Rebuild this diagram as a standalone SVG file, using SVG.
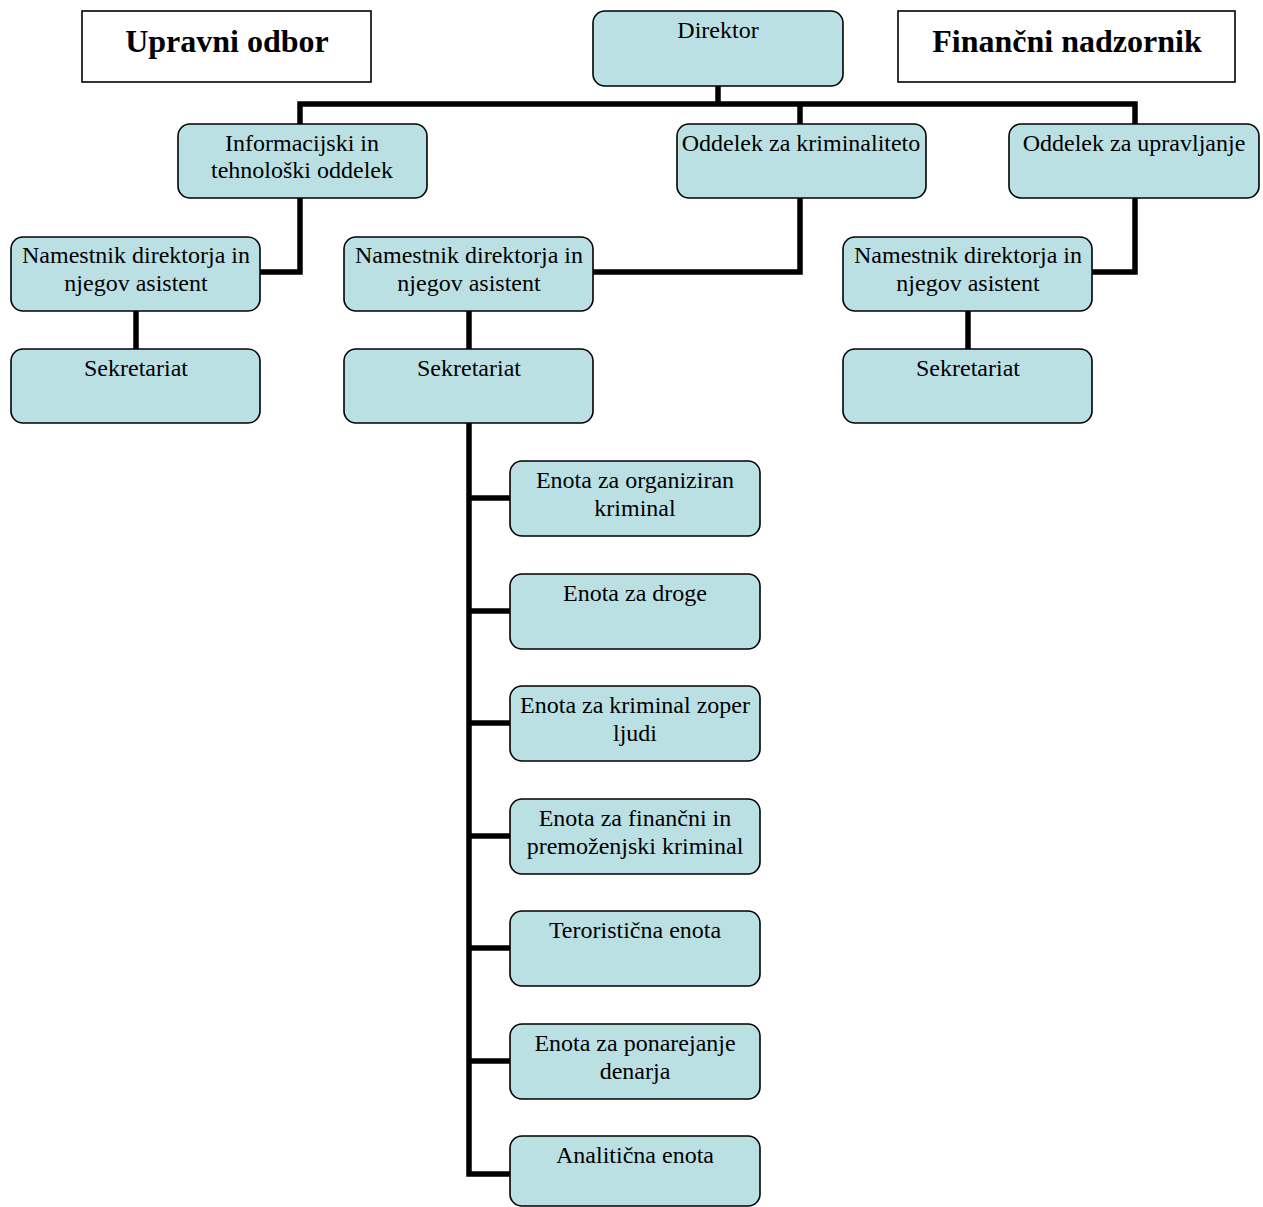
<svg xmlns="http://www.w3.org/2000/svg" width="1263" height="1207" viewBox="0 0 1263 1207">
  <style>
    .box { fill: #bbe0e3; stroke: #000; stroke-width: 1.6; }
    .plain { fill: #fff; stroke: #000; stroke-width: 1.6; }
    .t { font-family: "Liberation Serif", "Times New Roman", serif; font-size: 24px; fill: #000; text-anchor: middle; }
    .h { font-family: "Liberation Serif", "Times New Roman", serif; font-size: 32px; font-weight: bold; fill: #000; text-anchor: middle; }
    .link { fill: none; stroke: #000; stroke-width: 5.5; stroke-linejoin: miter; }
  </style>

  <!-- connectors -->
  <g id="connectors">
    <path class="link" d="M718,86 V104"/>
    <path class="link" d="M300,124 V104 H1135 V124"/>
    <path class="link" d="M800,104 V124"/>
    <path class="link" d="M300,198 V272 H260"/>
    <path class="link" d="M800,198 V272 H593"/>
    <path class="link" d="M1135,198 V272 H1092"/>
    <path class="link" d="M136,311 V349"/>
    <path class="link" d="M469,311 V349"/>
    <path class="link" d="M968,311 V349"/>
    <path class="link" d="M469,423 V1174 H510"/>
    <path class="link" d="M469,498 H510"/>
    <path class="link" d="M469,611 H510"/>
    <path class="link" d="M469,723 H510"/>
    <path class="link" d="M469,836 H510"/>
    <path class="link" d="M469,948 H510"/>
    <path class="link" d="M469,1061 H510"/>
  </g>

  <!-- top-level boxes -->
  <g id="upravni-odbor">
    <rect class="plain" x="82" y="11" width="289" height="71"/>
    <text class="h" x="227" y="52">Upravni odbor</text>
  </g>
  <g id="direktor">
    <rect class="box" x="593" y="11" width="250" height="75" rx="12"/>
    <text class="t" x="718" y="38">Direktor</text>
  </g>
  <g id="financni-nadzornik">
    <rect class="plain" x="898" y="11" width="337" height="71"/>
    <text class="h" x="1067" y="52">Finančni nadzornik</text>
  </g>

  <!-- departments -->
  <g id="it-oddelek">
    <rect class="box" x="178" y="124" width="249" height="74" rx="12"/>
    <text class="t" x="302" y="151">Informacijski in</text>
    <text class="t" x="302" y="178">tehnološki oddelek</text>
  </g>
  <g id="oddelek-kriminaliteta">
    <rect class="box" x="677" y="124" width="249" height="74" rx="12"/>
    <text class="t" x="801" y="151">Oddelek za kriminaliteto</text>
  </g>
  <g id="oddelek-upravljanje">
    <rect class="box" x="1009" y="124" width="250" height="74" rx="12"/>
    <text class="t" x="1134" y="151">Oddelek za upravljanje</text>
  </g>

  <!-- deputies -->
  <g id="namestnik-1">
    <rect class="box" x="11" y="237" width="249" height="74" rx="12"/>
    <text class="t" x="136" y="263">Namestnik direktorja in</text>
    <text class="t" x="136" y="291">njegov asistent</text>
  </g>
  <g id="namestnik-2">
    <rect class="box" x="344" y="237" width="249" height="74" rx="12"/>
    <text class="t" x="469" y="263">Namestnik direktorja in</text>
    <text class="t" x="469" y="291">njegov asistent</text>
  </g>
  <g id="namestnik-3">
    <rect class="box" x="843" y="237" width="249" height="74" rx="12"/>
    <text class="t" x="968" y="263">Namestnik direktorja in</text>
    <text class="t" x="968" y="291">njegov asistent</text>
  </g>

  <!-- secretariats -->
  <g id="sekretariat-1">
    <rect class="box" x="11" y="349" width="249" height="74" rx="12"/>
    <text class="t" x="136" y="376">Sekretariat</text>
  </g>
  <g id="sekretariat-2">
    <rect class="box" x="344" y="349" width="249" height="74" rx="12"/>
    <text class="t" x="469" y="376">Sekretariat</text>
  </g>
  <g id="sekretariat-3">
    <rect class="box" x="843" y="349" width="249" height="74" rx="12"/>
    <text class="t" x="968" y="376">Sekretariat</text>
  </g>

  <!-- units -->
  <g id="enota-organiziran">
    <rect class="box" x="510" y="461" width="250" height="75" rx="12"/>
    <text class="t" x="635" y="488">Enota za organiziran</text>
    <text class="t" x="635" y="516">kriminal</text>
  </g>
  <g id="enota-droge">
    <rect class="box" x="510" y="574" width="250" height="75" rx="12"/>
    <text class="t" x="635" y="601">Enota za droge</text>
  </g>
  <g id="enota-ljudi">
    <rect class="box" x="510" y="686" width="250" height="75" rx="12"/>
    <text class="t" x="635" y="713">Enota za kriminal zoper</text>
    <text class="t" x="635" y="741">ljudi</text>
  </g>
  <g id="enota-financni">
    <rect class="box" x="510" y="799" width="250" height="75" rx="12"/>
    <text class="t" x="635" y="826">Enota za finančni in</text>
    <text class="t" x="635" y="854">premoženjski kriminal</text>
  </g>
  <g id="enota-teroristicna">
    <rect class="box" x="510" y="911" width="250" height="75" rx="12"/>
    <text class="t" x="635" y="938">Teroristična enota</text>
  </g>
  <g id="enota-ponarejanje">
    <rect class="box" x="510" y="1024" width="250" height="75" rx="12"/>
    <text class="t" x="635" y="1051">Enota za ponarejanje</text>
    <text class="t" x="635" y="1079">denarja</text>
  </g>
  <g id="enota-analiticna">
    <rect class="box" x="510" y="1136" width="250" height="70" rx="12"/>
    <text class="t" x="635" y="1163">Analitična enota</text>
  </g>
</svg>
